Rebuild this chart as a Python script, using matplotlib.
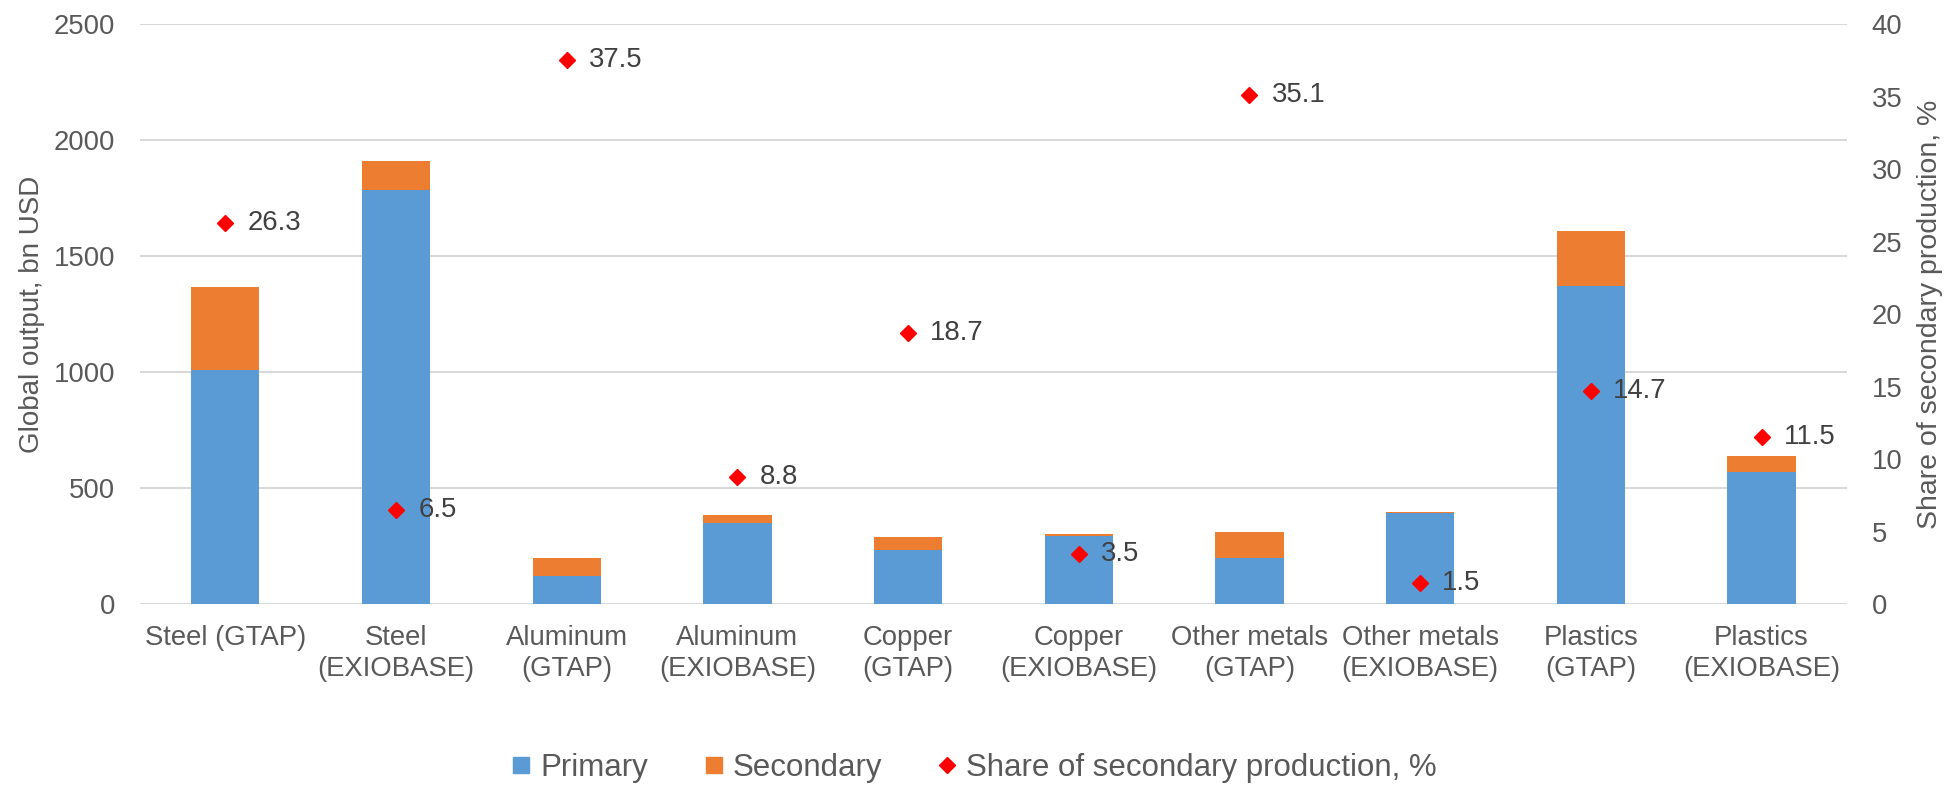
import numpy as np
import matplotlib
matplotlib.use("Agg")
import matplotlib.pyplot as plt
from matplotlib.lines import Line2D

plt.rcParams['font.family'] = ['Liberation Sans', 'DejaVu Sans']

# data
categories = ['Steel (GTAP)', 'Steel\n(EXIOBASE)', 'Aluminum\n(GTAP)', 'Aluminum\n(EXIOBASE)',
              'Copper\n(GTAP)', 'Copper\n(EXIOBASE)', 'Other metals\n(GTAP)', 'Other metals\n(EXIOBASE)',
              'Plastics\n(GTAP)', 'Plastics\n(EXIOBASE)']
primary = [1008, 1783, 123, 351, 233, 293, 199, 392, 1371, 568]
secondary = [358, 128, 76, 34, 55, 10, 111, 7, 238, 73]
share = [26.3, 6.5, 37.5, 8.8, 18.7, 3.5, 35.1, 1.5, 14.7, 11.5]

left_ticks = [0, 500, 1000, 1500, 2000, 2500]
right_ticks = [0, 5, 10, 15, 20, 25, 30, 35, 40]

C_PRIMARY = '#5B9BD5'
C_SECONDARY = '#ED7D31'
C_SHARE = '#FF0000'
C_TICK = '#595959'
C_LABEL = '#404040'
C_GRID = '#D9D9D9'

fig = plt.figure(figsize=(19.49, 7.85), dpi=100)
ax = fig.add_axes([0.0718, 0.2302, 0.8758, 0.7392])
ax2 = ax.twinx()

x = np.arange(len(categories))
ax.bar(x, primary, width=0.40, color=C_PRIMARY, zorder=2)
ax.bar(x, secondary, width=0.40, bottom=primary, color=C_SECONDARY, zorder=2)

ax.set_xlim(-0.5, len(categories) - 0.5)
ax.set_ylim(0, 2500)
ax.set_yticks(left_ticks)
ax.yaxis.grid(True, color=C_GRID, linewidth=1.5, zorder=0)
ax.set_axisbelow(True)
ax.set_xticks(x)
ax.set_xticklabels(categories, fontsize=19.8, color=C_TICK, linespacing=1.22)
ax.tick_params(axis='y', labelsize=19.8, labelcolor=C_TICK, length=0, pad=18)
ax.tick_params(axis='x', length=0, pad=15)
ax.set_ylabel('Global output, bn USD', fontsize=20, color=C_TICK, labelpad=6)

ax2.plot(x, share, linestyle='none', marker='D', markersize=7.7, color=C_SHARE, zorder=3)
for xi, s in zip(x, share):
    ax2.annotate(f'{s:.1f}', (xi, s), xytext=(16, 0), textcoords='offset points',
                 va='center', ha='left', fontsize=19.8, color=C_LABEL)
ax2.set_ylim(0, 40)
ax2.set_yticks(right_ticks)
ax2.tick_params(axis='y', labelsize=19.8, labelcolor=C_TICK, length=0, pad=18)
ax2.set_ylabel('Share of secondary production, %', fontsize=20.5, color=C_TICK, labelpad=10)

for a in (ax, ax2):
    for sp in a.spines.values():
        sp.set_visible(False)

handles = [
    Line2D([], [], marker='s', linestyle='none', color=C_PRIMARY, markersize=11.5),
    Line2D([], [], marker='s', linestyle='none', color=C_SECONDARY, markersize=11.5),
    Line2D([], [], marker='D', linestyle='none', color=C_SHARE, markersize=7.7),
]
labels = ['Primary', 'Secondary', 'Share of secondary production, %']
leg = fig.legend(handles, labels, loc='center', bbox_to_anchor=(0.5, 0.022), ncol=3,
                 frameon=False, fontsize=22.5, handlelength=0.6, handletextpad=0.3,
                 columnspacing=1.8, labelcolor=C_TICK)

fig.savefig('out.png', dpi=100)
